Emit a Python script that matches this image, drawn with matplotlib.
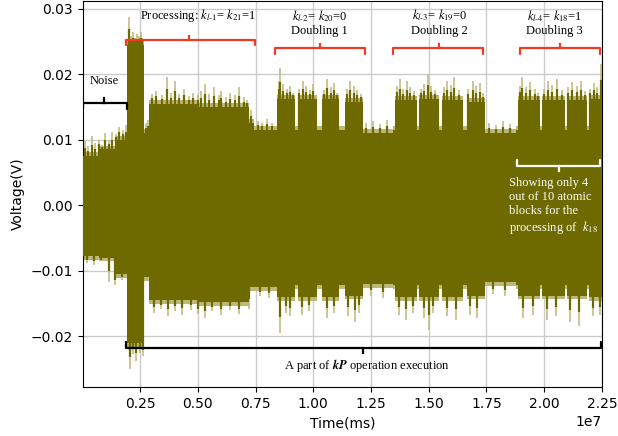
import matplotlib
matplotlib.use("Agg")
import matplotlib.pyplot as plt
import numpy as np

# envelope of the power trace, time in units of 1e7 ms
seg_edges = [0.0, 0.07, 0.14, 0.195, 0.269, 0.29, 0.50, 0.72, 0.745,
             0.841, 0.919, 0.932, 1.015, 1.036, 1.110, 1.136, 1.214,
             1.344, 1.353, 1.448, 1.457, 1.543, 1.556, 1.647, 1.665, 1.743,
             1.877, 1.886, 1.981, 1.990, 2.090, 2.098, 2.185, 2.194, 2.25]
body_hi = [0.0075, 0.0085, 0.0100, 0.0245, 0.0110, 0.0155, 0.0150, 0.0125,
           0.0115, 0.0162, 0.0115, 0.0162, 0.0115, 0.0162, 0.0115, 0.0158,
           0.0110, 0.0115, 0.0160, 0.0115, 0.0162, 0.0115, 0.0160, 0.0115, 0.0158,
           0.0110, 0.0115, 0.0160, 0.0115, 0.0160, 0.0115, 0.0160, 0.0115, 0.0162]
body_lo = [-0.0078, -0.0080, -0.0105, -0.0210, -0.0110, -0.0145, -0.0148, -0.0125,
           -0.0125, -0.0140, -0.0122, -0.0140, -0.0122, -0.0140, -0.0122, -0.0138,
           -0.0120, -0.0122, -0.0140, -0.0122, -0.0140, -0.0122, -0.0140, -0.0122, -0.0138,
           -0.0118, -0.0122, -0.0138, -0.0122, -0.0138, -0.0122, -0.0138, -0.0122, -0.0140]

# spikes on top of the trace (time, voltage)
spike_t_hi = [0.01, 0.025, 0.04, 0.055, 0.07, 0.085, 0.10, 0.115, 0.13, 0.145, 0.16, 0.175, 0.19,
              0.20, 0.204, 0.212, 0.22, 0.228, 0.236, 0.244, 0.252, 0.26,
              0.275, 0.284,
              0.30, 0.32, 0.345, 0.368, 0.385, 0.403, 0.42, 0.44, 0.46, 0.48, 0.50, 0.515,
              0.529, 0.55, 0.572, 0.59, 0.602, 0.62, 0.64, 0.66, 0.68, 0.70, 0.715, 0.73,
              0.76, 0.78, 0.80, 0.82,
              0.850, 0.854, 0.870, 0.885, 0.900, 0.912,
              0.940, 0.955, 0.970, 0.985, 1.000,
              1.045, 1.060, 1.075, 1.090, 1.102,
              1.145, 1.160, 1.175, 1.190, 1.205,
              1.23, 1.26, 1.29, 1.32,
              1.362, 1.375, 1.390, 1.405, 1.420, 1.438,
              1.465, 1.480, 1.495, 1.510, 1.528,
              1.565, 1.580, 1.595, 1.610, 1.630,
              1.672, 1.690, 1.705, 1.720, 1.735,
              1.76, 1.79, 1.82, 1.85,
              1.895, 1.905, 1.920, 1.940, 1.960, 1.975,
              2.000, 2.015, 2.035, 2.055, 2.075,
              2.105, 2.120, 2.140, 2.160, 2.178,
              2.200, 2.215, 2.230, 2.246]
spike_v_hi = [0.0098, 0.0090, 0.0105, 0.0095, 0.0100, 0.0092, 0.0110, 0.0100, 0.0112, 0.0108, 0.0120, 0.0115, 0.0122,
              0.0262, 0.0288, 0.0258, 0.0265, 0.0255, 0.0262, 0.0258, 0.0264, 0.0256,
              0.0125, 0.0130,
              0.0170, 0.0175, 0.0168, 0.0195, 0.0172, 0.0190, 0.0170, 0.0178, 0.0166, 0.0172, 0.0168, 0.0175,
              0.0185, 0.0170, 0.0180, 0.0168, 0.0175, 0.0165, 0.0172, 0.0168, 0.0180, 0.0165, 0.0160, 0.0145,
              0.0128, 0.0125, 0.0132, 0.0126,
              0.0190, 0.0210, 0.0185, 0.0178, 0.0182, 0.0172,
              0.0178, 0.0190, 0.0182, 0.0176, 0.0185,
              0.0176, 0.0192, 0.0180, 0.0186, 0.0172,
              0.0178, 0.0190, 0.0182, 0.0176, 0.0170,
              0.0125, 0.0128, 0.0124, 0.0130,
              0.0182, 0.0192, 0.0178, 0.0190, 0.0180, 0.0175,
              0.0178, 0.0185, 0.0200, 0.0182, 0.0176,
              0.0180, 0.0190, 0.0184, 0.0195, 0.0176,
              0.0178, 0.0190, 0.0182, 0.0186, 0.0172,
              0.0125, 0.0122, 0.0128, 0.0124,
              0.0182, 0.0195, 0.0180, 0.0188, 0.0178, 0.0172,
              0.0178, 0.0190, 0.0184, 0.0192, 0.0176,
              0.0180, 0.0188, 0.0182, 0.0190, 0.0174,
              0.0178, 0.0186, 0.0180, 0.0215]
spike_t_lo = [0.02, 0.05, 0.08, 0.115, 0.14, 0.17,
              0.205, 0.208, 0.22, 0.232, 0.25, 0.262,
              0.31, 0.34, 0.37, 0.40, 0.43, 0.47, 0.50, 0.53, 0.56, 0.60, 0.64, 0.68, 0.72,
              0.77, 0.81,
              0.858, 0.88, 0.90, 0.95, 0.98, 1.06, 1.09, 1.15, 1.18, 1.20,
              1.25, 1.30,
              1.37, 1.40, 1.43, 1.48, 1.50, 1.52, 1.58, 1.62, 1.68, 1.71,
              1.78, 1.83,
              1.91, 1.95, 2.01, 2.05, 2.11, 2.15, 2.21, 2.24]
spike_v_lo = [-0.0088, -0.0092, -0.0086, -0.0118, -0.0122, -0.0115,
              -0.0232, -0.0250, -0.0228, -0.0238, -0.0226, -0.0230,
              -0.0165, -0.0158, -0.0170, -0.0162, -0.0168, -0.0160, -0.0166, -0.0172, -0.0162, -0.0168, -0.0160, -0.0166, -0.0158,
              -0.0138, -0.0142,
              -0.0196, -0.0165, -0.0170, -0.0168, -0.0162, -0.0172, -0.0165, -0.0170, -0.0178, -0.0165,
              -0.0138, -0.0142,
              -0.0168, -0.0175, -0.0165, -0.0172, -0.0190, -0.0165, -0.0170, -0.0175, -0.0168, -0.0172,
              -0.0135, -0.0138,
              -0.0172, -0.0168, -0.0175, -0.0170, -0.0178, -0.0185, -0.0170, -0.0168]

proc_label = r"Processing: $k_{l\text{-}1}$= $k_{21}$=1"
dbl_labels = [r"$k_{l\text{-}2}$= $k_{20}$=0" + "\nDoubling 1",
              r"$k_{l\text{-}3}$= $k_{19}$=0" + "\nDoubling 2",
              r"$k_{l\text{-}4}$= $k_{18}$=1" + "\nDoubling 3"]
dbl_label_x = [1.0275, 1.5477, 2.0462]
red_brackets = [(0.1908, 0.7457, 0.4639, 0.0253),
                (0.8324, 1.2225, 1.0275, 0.0240),
                (1.3439, 1.7341, 1.5434, 0.0240),
                (1.8945, 2.2413, 2.0679, 0.0240)]

OLIVE = "#6e6a00"
OLIVE_LIGHT = "#bcb878"
RED = "#f03a22"


def step(edges, vals):
    x = np.repeat(np.array(edges) * 1e7, 2)[1:-1]
    y = np.repeat(np.array(vals), 2)
    return x, y


def bracket(ax, x0, x1, xc, y, hook, tip, color, lw=1.6):
    ax.plot([x0 * 1e7, x0 * 1e7, x1 * 1e7, x1 * 1e7], [y + hook, y, y, y + hook],
            color=color, lw=lw, solid_capstyle="round", solid_joinstyle="round", zorder=5)
    ax.plot([xc * 1e7, xc * 1e7], [y, y + tip], color=color, lw=lw, zorder=5)


plt.rcParams["mathtext.fontset"] = "stix"

fig = plt.figure(figsize=(6.18, 4.36), dpi=100)
ax = fig.add_axes([0.134, 0.112, 0.84, 0.886])

ax.grid(True, color="#cccccc", lw=1.0, zorder=0)
ax.set_axisbelow(True)

xs, bh = step(seg_edges, body_hi)
_, bl = step(seg_edges, body_lo)
# thin pale fringe around the dense trace
ax.fill_between(xs, np.array(bl) - 0.0006, np.array(bh) + 0.0006, color=OLIVE_LIGHT, lw=0, zorder=2)
t_hi = np.array(spike_t_hi) * 1e7
t_lo = np.array(spike_t_lo) * 1e7
ax.vlines(t_hi, 0, spike_v_hi, color=OLIVE_LIGHT, lw=1.1, zorder=2)
ax.vlines(t_lo, spike_v_lo, 0, color=OLIVE_LIGHT, lw=1.1, zorder=2)
ax.fill_between(xs, bl, bh, color=OLIVE, lw=0, zorder=3)
# darker cores of the spikes
base_hi = np.interp(t_hi, xs, bh)
base_lo = np.interp(t_lo, xs, bl)
ax.vlines(t_hi, 0, base_hi + 0.55 * (np.array(spike_v_hi) - base_hi), color=OLIVE, lw=1.6, zorder=3)
ax.vlines(t_lo, base_lo + 0.55 * (np.array(spike_v_lo) - base_lo), 0, color=OLIVE, lw=1.6, zorder=3)

serif = "Liberation Serif"
fs = 9

# red brackets and labels
for x0, x1, xc, y in red_brackets:
    bracket(ax, x0, x1, xc, y, -0.0009, 0.0006, RED)
ax.text(0.503e7, 0.0290, proc_label, family=serif, fontsize=fs, ha="center", va="center", zorder=6)
for lx, lab in zip(dbl_label_x, dbl_labels):
    ax.text(lx * 1e7, 0.0279, lab, family=serif, fontsize=fs, ha="center", va="center",
            linespacing=1.15, zorder=6)

# noise bracket
bracket(ax, 0.004, 0.195, 0.0954, 0.0156, -0.0009, 0.0008, "black")
ax.text(0.0954e7, 0.0189, "Noise", family=serif, fontsize=fs, ha="center", va="center", zorder=6)

# whole kP operation bracket
bracket(ax, 0.1908, 2.2457, 1.2139, -0.0218, 0.0009, -0.0008, "black")
ax.text(1.231e7, -0.0245, r"A part of $\mathbfit{kP}$ operation execution",
        family=serif, fontsize=fs, ha="center", va="center", zorder=6)

# white bracket and note
bracket(ax, 1.8815, 2.2413, 2.0636, 0.0060, 0.0009, -0.0008, "white")
ax.text(1.8468e7, 0.0043, "Showing only 4\nout of 10 atomic\nblocks for the\nprocessing of  " + r"$k_{18}$",
        family=serif, fontsize=fs, color="white", ha="left", va="top", linespacing=1.2, zorder=6)

ax.set_xlim(0.002e7, 2.25e7)
ax.set_ylim(-0.0278, 0.0312)
ax.set_xticks([0.25e7, 0.5e7, 0.75e7, 1.0e7, 1.25e7, 1.5e7, 1.75e7, 2.0e7, 2.25e7])
ax.set_yticks([-0.02, -0.01, 0.0, 0.01, 0.02, 0.03])
ax.set_xlabel("Time(ms)")
ax.set_ylabel("Voltage(V)")

fig.savefig("out.png", dpi=100)
